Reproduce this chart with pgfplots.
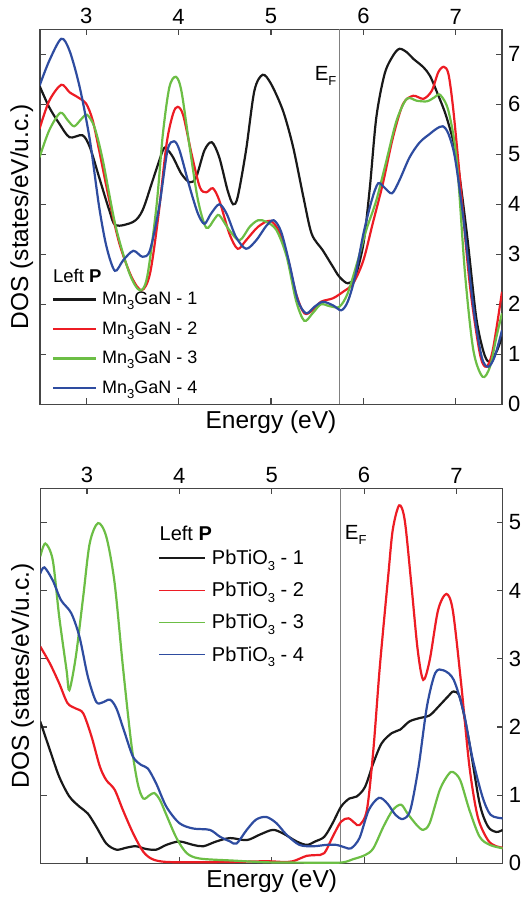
\documentclass[border=0pt]{standalone}
\usepackage{fontspec}
\setmainfont{Liberation Sans}
\usepackage{pgfplots}
\pgfplotsset{compat=1.18}

\definecolor{cblack}{RGB}{25,25,25}
\definecolor{cred}{RGB}{237,28,36}
\definecolor{cgreen}{RGB}{108,190,69}
\definecolor{cblue}{RGB}{46,76,160}
\definecolor{frame}{RGB}{70,70,70}

\newcommand{\sub}[1]{\raisebox{-0.5ex}{\fontsize{13}{13}\selectfont #1}}

\pgfplotsset{
  dosax/.style={
    scale only axis, width=462pt, height=375pt,
    xmin=2.5, xmax=7.5, ymin=0,
    xtick={3,4,5,6,7},
    xticklabel pos=upper, yticklabel pos=right,
    xtick pos=both, ytick pos=both,
    tick align=inside, major tick length=6pt, minor tick num=0,
    axis line style={frame, line width=1.2pt},
    tick style={frame, line width=1.2pt},
    ticklabel style={font=\fontsize{22}{22}\selectfont, inner sep=0pt},
    xticklabel style={yshift=5pt},
    yticklabel style={xshift=6pt},
    /pgf/number format/assume math mode=true,
    xlabel={Energy (eV)}, ylabel={DOS (states/eV/u.c.)},
    xlabel style={at={([yshift=-6pt]axis description cs:0.5,0)}, anchor=north, inner sep=0pt, font=\fontsize{24.5}{24.5}\selectfont},
    ylabel style={at={([xshift=-6.5pt]axis description cs:0,0.5)}, anchor=south, rotate=0, inner sep=0pt, font=\fontsize{24.5}{24.5}\selectfont},
    every axis plot/.append style={line width=2.2pt, smooth, tension=0.5},
    legend cell align=left,
  },
}

\begin{document}
\begin{tikzpicture}
\useasboundingbox (0,0) rectangle (522pt,897pt);

% ---------- top panel: Mn3GaN ----------
\begin{axis}[dosax, at={(40pt,492.7pt)}, anchor=south west,
  ymax=7.5, ytick={0,...,7},
  legend image code/.code={\draw[#1] (0pt,0pt) -- (43pt,0pt);},
  legend style={draw=none, fill=none, inner sep=0pt, outer sep=0pt,
    at={(axis description cs:0.026,0.2995)}, anchor=north west,
    font=\fontsize{18}{18}\selectfont, row sep=14.5pt, column sep=5pt,
    nodes={inner sep=0pt, text height=13pt, text depth=2pt}},
]
\addplot[gray, line width=1.3pt, sharp plot, forget plot] coordinates {(5.745,0)(5.745,7.5)};

\addplot[cblack] coordinates {
(2.495,6.37)(2.60,5.94)(2.71,5.61)(2.82,5.34)(2.96,5.38)(3.04,5.14)(3.14,4.54)
(3.25,3.88)(3.32,3.58)(3.51,3.65)(3.61,3.88)(3.72,4.48)(3.83,5.08)(3.87,5.11)
(3.94,4.94)(4.03,4.61)(4.12,4.44)(4.19,4.54)(4.28,5.08)(4.36,5.24)(4.44,4.94)
(4.53,4.28)(4.59,4.00)(4.64,4.15)(4.73,5.08)(4.82,6.27)(4.91,6.59)(5.00,6.41)
(5.13,5.87)(5.24,5.14)(5.35,4.15)(5.44,3.41)(5.56,3.08)(5.67,2.75)(5.74,2.55)
(5.83,2.42)(5.91,2.55)(6.00,3.21)(6.07,4.34)(6.14,5.74)(6.23,6.61)(6.32,6.97)
(6.39,7.11)(6.47,7.04)(6.54,6.91)(6.65,6.74)(6.72,6.57)(6.79,6.27)(6.90,5.74)
(7.01,4.94)(7.12,3.41)(7.22,1.75)(7.30,1.05)(7.36,0.85)(7.44,1.05)(7.50,1.35)
};
\addlegendentry{Mn\sub{3}GaN - 1}

\addplot[cred] coordinates {
(2.495,5.51)(2.60,6.07)(2.73,6.39)(2.82,6.24)(2.91,6.14)(3.00,6.01)(3.07,5.68)
(3.14,5.08)(3.25,4.08)(3.36,3.21)(3.49,2.55)(3.60,2.28)(3.69,2.61)(3.78,3.75)
(3.87,5.21)(3.94,5.81)(3.99,5.95)(4.05,5.78)(4.14,5.01)(4.23,4.34)(4.30,4.24)
(4.37,4.32)(4.44,4.08)(4.55,3.41)(4.64,3.11)(4.73,3.28)(4.86,3.55)(4.99,3.67)
(5.08,3.48)(5.17,3.01)(5.27,2.22)(5.36,1.82)(5.45,1.88)(5.54,2.05)(5.67,2.12)
(5.78,2.25)(5.89,2.42)(6.00,2.88)(6.10,3.61)(6.21,4.41)(6.32,5.34)(6.43,6.01)
(6.54,6.17)(6.65,6.11)(6.74,6.27)(6.81,6.64)(6.87,6.75)(6.92,6.61)(6.97,5.94)
(7.04,4.61)(7.15,2.42)(7.26,1.02)(7.33,0.75)(7.40,1.08)(7.50,2.25)
};
\addlegendentry{Mn\sub{3}GaN - 2}

\addplot[cgreen] coordinates {
(2.495,4.94)(2.60,5.48)(2.72,5.83)(2.80,5.68)(2.87,5.56)(2.95,5.71)(3.01,5.79)
(3.09,5.54)(3.18,4.88)(3.32,3.55)(3.47,2.61)(3.58,2.28)(3.66,2.55)(3.76,3.95)
(3.83,5.41)(3.90,6.34)(3.97,6.55)(4.03,6.27)(4.12,5.14)(4.21,4.08)(4.30,3.53)
(4.39,3.71)(4.44,3.78)(4.55,3.48)(4.66,3.28)(4.77,3.55)(4.86,3.68)(4.95,3.65)
(5.06,3.48)(5.17,2.95)(5.27,2.08)(5.36,1.67)(5.45,1.82)(5.54,2.00)(5.64,1.96)
(5.74,1.95)(5.83,2.22)(5.94,2.88)(6.03,3.48)(6.14,4.08)(6.25,4.88)(6.36,5.68)
(6.47,6.11)(6.58,6.07)(6.69,6.06)(6.77,6.14)(6.83,6.19)(6.92,5.87)(7.01,4.88)
(7.10,2.61)(7.19,1.08)(7.29,0.55)(7.37,0.75)(7.44,1.35)(7.50,1.82)
};
\addlegendentry{Mn\sub{3}GaN - 3}

\addplot[cblue] coordinates {
(2.495,6.37)(2.60,6.87)(2.73,7.31)(2.82,7.07)(2.93,6.34)(3.04,5.28)(3.14,3.95)
(3.22,3.15)(3.31,2.67)(3.40,2.88)(3.51,3.07)(3.61,2.95)(3.69,3.08)(3.79,3.95)
(3.88,5.08)(3.95,5.26)(4.01,5.08)(4.12,4.34)(4.21,3.81)(4.28,3.61)(4.35,3.81)
(4.44,4.00)(4.52,3.81)(4.62,3.35)(4.73,3.11)(4.84,3.28)(4.95,3.57)(5.03,3.68)
(5.11,3.45)(5.20,2.81)(5.29,2.08)(5.38,1.82)(5.47,1.95)(5.56,2.05)(5.67,1.98)
(5.76,1.88)(5.83,2.05)(5.91,2.55)(6.00,3.41)(6.09,4.08)(6.16,4.42)(6.23,4.33)
(6.31,4.22)(6.39,4.48)(6.50,4.94)(6.61,5.24)(6.72,5.41)(6.79,5.51)(6.86,5.56)
(6.92,5.41)(6.99,4.94)(7.08,3.75)(7.19,1.95)(7.28,0.95)(7.35,0.75)(7.42,0.95)
(7.50,1.48)
};
\addlegendentry{Mn\sub{3}GaN - 4}

\node[anchor=base west, inner sep=0pt, font=\fontsize{18.5}{18.5}\selectfont]
  at (axis description cs:0.028,0.3235) {Left \textbf{P}};
\node[anchor=north east, inner sep=0pt, font=\fontsize{20.5}{20.5}\selectfont]
  at (axis cs:5.71,6.77) {E\sub{F}};
\end{axis}

% ---------- bottom panel: PbTiO3 ----------
\begin{axis}[dosax, at={(40.7pt,33.7pt)}, anchor=south west,
  ymax=5.5, ytick={0,...,5},
  legend image code/.code={\draw[#1, line width=1.6pt] (0pt,0pt) -- (46pt,0pt);},
  legend style={draw=none, fill=none, inner sep=0pt, outer sep=0pt,
    at={(axis description cs:0.2554,0.8347)}, anchor=north west,
    font=\fontsize{20}{20}\selectfont, row sep=16.1pt, column sep=5.7pt,
    nodes={inner sep=0pt, text height=14.5pt, text depth=1.5pt}},
]
\addplot[gray, line width=1.3pt, sharp plot, forget plot] coordinates {(5.745,0)(5.745,5.5)};

\addplot[cblack] coordinates {
(2.495,2.08)(2.60,1.66)(2.70,1.27)(2.81,0.98)(2.92,0.83)(3.01,0.73)(3.10,0.54)
(3.21,0.29)(3.32,0.20)(3.43,0.23)(3.53,0.25)(3.64,0.21)(3.75,0.20)(3.86,0.27)
(4.00,0.32)(4.15,0.27)(4.26,0.25)(4.40,0.32)(4.55,0.37)(4.73,0.34)(4.87,0.42)
(5.01,0.49)(5.12,0.44)(5.27,0.32)(5.38,0.27)(5.47,0.32)(5.57,0.39)(5.66,0.59)
(5.75,0.83)(5.84,0.95)(5.92,0.98)(6.01,1.12)(6.10,1.47)(6.19,1.76)(6.30,1.91)
(6.39,1.96)(6.49,2.08)(6.60,2.13)(6.71,2.17)(6.82,2.32)(6.91,2.45)(6.97,2.52)
(7.04,2.42)(7.14,1.76)(7.25,0.88)(7.34,0.54)(7.43,0.46)(7.50,0.49)
};
\addlegendentry{PbTiO\sub{3} - 1}

\addplot[cred] coordinates {
(2.495,3.18)(2.60,2.93)(2.70,2.64)(2.79,2.35)(2.88,2.27)(2.96,2.20)(3.05,1.86)
(3.14,1.42)(3.21,1.22)(3.30,1.08)(3.39,0.78)(3.50,0.44)(3.61,0.17)(3.71,0.06)
(3.86,0.02)(4.22,0.015)(4.58,0.02)(4.94,0.03)(5.12,0.02)(5.23,0.03)(5.38,0.11)
(5.48,0.12)(5.57,0.15)(5.66,0.39)(5.75,0.61)(5.83,0.66)(5.90,0.59)(5.95,0.56)
(6.03,0.78)(6.10,1.66)(6.17,2.88)(6.26,4.20)(6.31,4.89)(6.38,5.25)(6.44,5.03)
(6.51,4.11)(6.58,3.13)(6.64,2.69)(6.71,2.98)(6.80,3.71)(6.89,3.95)(6.96,3.71)
(7.05,2.64)(7.14,1.42)(7.23,0.68)(7.34,0.34)(7.43,0.25)(7.50,0.23)
};
\addlegendentry{PbTiO\sub{3} - 2}

\addplot[cgreen] coordinates {
(2.495,4.50)(2.55,4.69)(2.63,4.45)(2.70,3.62)(2.78,2.83)(2.81,2.54)(2.88,3.03)
(2.96,3.91)(3.03,4.69)(3.12,4.99)(3.21,4.79)(3.30,4.11)(3.39,2.88)(3.48,1.76)
(3.55,1.17)(3.61,0.95)(3.68,1.00)(3.73,1.03)(3.79,0.93)(3.86,0.71)(3.97,0.37)
(4.08,0.15)(4.22,0.07)(4.58,0.04)(4.94,0.015)(5.30,0.01)(5.74,0.01)(5.88,0.06)
(6.01,0.12)(6.10,0.22)(6.21,0.54)(6.31,0.78)(6.40,0.86)(6.47,0.73)(6.57,0.56)
(6.64,0.49)(6.71,0.59)(6.82,1.08)(6.91,1.30)(6.96,1.34)(7.04,1.22)(7.14,0.78)
(7.25,0.39)(7.36,0.27)(7.50,0.22)
};
\addlegendentry{PbTiO\sub{3} - 3}

\addplot[cblue] coordinates {
(2.495,4.25)(2.54,4.34)(2.63,4.15)(2.72,3.86)(2.83,3.67)(2.92,3.32)(3.01,2.74)
(3.10,2.37)(3.17,2.36)(3.25,2.40)(3.32,2.27)(3.41,1.91)(3.50,1.56)(3.59,1.44)
(3.66,1.39)(3.75,1.17)(3.86,0.83)(4.00,0.59)(4.15,0.51)(4.33,0.49)(4.44,0.39)
(4.55,0.32)(4.62,0.29)(4.73,0.49)(4.83,0.64)(4.94,0.68)(5.05,0.59)(5.16,0.42)
(5.30,0.27)(5.45,0.25)(5.59,0.27)(5.70,0.27)(5.80,0.23)(5.86,0.22)(5.95,0.37)
(6.05,0.78)(6.16,0.96)(6.25,0.88)(6.34,0.71)(6.42,0.65)(6.50,0.78)(6.59,1.42)
(6.68,2.30)(6.77,2.79)(6.86,2.83)(6.97,2.69)(7.08,2.20)(7.17,1.56)(7.28,0.98)
(7.37,0.71)(7.50,0.66)
};
\addlegendentry{PbTiO\sub{3} - 4}

\node[anchor=base west, inner sep=0pt, font=\fontsize{20}{20}\selectfont]
  at (axis description cs:0.257,0.862) {Left \textbf{P}};
\node[anchor=north west, inner sep=0pt, font=\fontsize{20.5}{20.5}\selectfont]
  at (axis cs:5.79,4.96) {E\sub{F}};
\end{axis}
\end{tikzpicture}
\end{document}
